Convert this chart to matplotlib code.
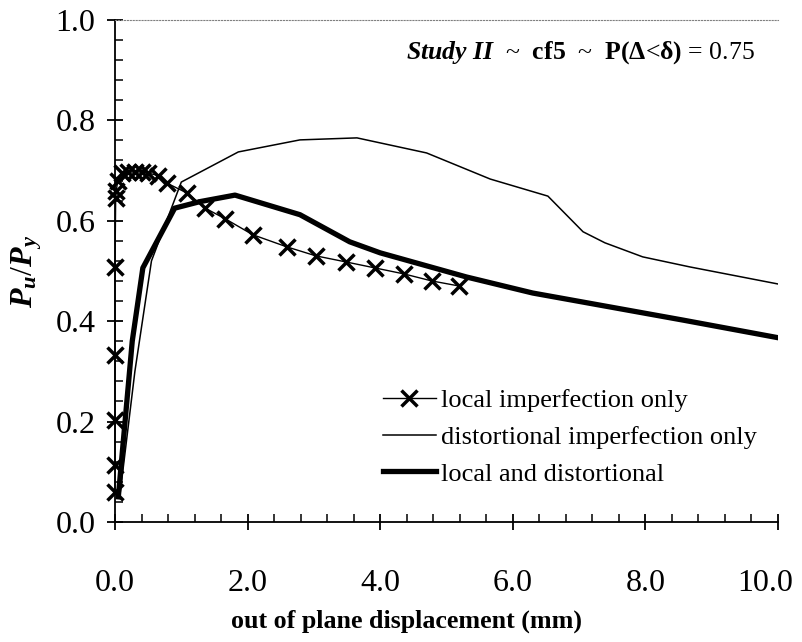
"""Pu/Py vs out of plane displacement, Study II cf5."""

import matplotlib

matplotlib.use("Agg")
import matplotlib.pyplot as plt  # noqa: E402
from matplotlib.ticker import FuncFormatter, FormatStrFormatter, MultipleLocator  # noqa: E402

plt.rcParams["font.family"] = ["Liberation Serif", "DejaVu Serif"]
plt.rcParams["mathtext.fontset"] = "custom"
plt.rcParams["mathtext.rm"] = "Liberation Serif"
plt.rcParams["mathtext.it"] = "Liberation Serif:italic:bold"
plt.rcParams["mathtext.bf"] = "Liberation Serif:bold"

# local imperfection only
local_x = [0.0, 0.0, 0.0, 0.0, 0.0, 0.01, 0.02, 0.04, 0.1, 0.2, 0.3, 0.4, 0.5,
           0.65, 0.78, 1.09, 1.36, 1.66, 2.08, 2.59, 3.03, 3.48, 3.92, 4.36, 4.78, 5.19]
local_y = [0.06, 0.114, 0.203, 0.333, 0.508, 0.645, 0.66, 0.68, 0.695, 0.697, 0.697,
           0.697, 0.695, 0.69, 0.675, 0.655, 0.625, 0.604, 0.572, 0.548, 0.53, 0.518,
           0.506, 0.494, 0.48, 0.47]

# distortional imperfection only
dist_x = [0.08, 0.3, 0.55, 1.0, 1.86, 2.79, 3.65, 4.7, 5.66, 6.53, 7.06, 7.39, 7.96, 8.67, 10.0]
dist_y = [0.06, 0.3, 0.52, 0.677, 0.737, 0.761, 0.765, 0.735, 0.683, 0.649, 0.578, 0.556,
          0.528, 0.508, 0.474]

# local and distortional
both_x = [0.05, 0.26, 0.42, 0.9, 1.28, 1.81, 2.79, 3.54, 4.0, 5.3, 6.3, 8.57, 10.0]
both_y = [0.05, 0.36, 0.506, 0.625, 0.638, 0.651, 0.612, 0.558, 0.536, 0.488, 0.456,
          0.402, 0.367]

X_MAX = 10.0

fig = plt.figure(figsize=(8.02, 6.42), dpi=100)
ax = fig.add_axes([0.1434, 0.187, 0.8266, 0.782])

ax.plot(local_x, local_y, color="black", lw=1.0, marker="x", ms=11, mew=2.5,
        clip_on=False, zorder=4, label="local imperfection only")
ax.plot(dist_x, dist_y, color="black", lw=1.1, label="distortional imperfection only")
ax.plot(both_x, both_y, color="black", lw=3.8, label="local and distortional")

ax.set_xlim(0, X_MAX)
ax.set_ylim(0, 1.0)
ax.xaxis.set_major_locator(MultipleLocator(2.0))
ax.xaxis.set_minor_locator(MultipleLocator(0.4))
ax.yaxis.set_major_locator(MultipleLocator(0.2))
ax.yaxis.set_minor_locator(MultipleLocator(0.04))
# last x label is drawn separately, nudged left so it stays inside the figure
ax.xaxis.set_major_formatter(FuncFormatter(lambda v, _: "" if v >= X_MAX else f"{v:.1f}"))
ax.yaxis.set_major_formatter(FormatStrFormatter("%.1f"))
ax.tick_params(which="major", direction="inout", length=12, width=1.3, labelsize=23, pad=8)
ax.tick_params(axis="x", which="major", pad=28)
ax.tick_params(which="minor", direction="in", length=6, width=1.1)
ax.annotate(f"{X_MAX:.1f}", xy=(X_MAX, 0), xycoords="data", xytext=(-9, -34),
            textcoords="offset points", ha="center", va="top", fontsize=23)

ax.spines["right"].set_visible(False)
ax.spines["top"].set_linestyle(":")
ax.spines["top"].set_color("grey")
ax.spines["left"].set_linewidth(1.3)
ax.spines["bottom"].set_linewidth(1.3)

ax.set_xlabel("out of plane displacement (mm)", fontsize=18.7, fontweight="bold")
ax.xaxis.set_label_coords(0.44, -0.175)
ax.set_ylabel(r"$\mathit{P_u/P_y}$", fontsize=23, labelpad=8)

ax.text(0.965, 0.935,
        r"$\mathit{Study\ II}$  ~  $\mathbf{cf5}$  ~  $\mathbf{P(\Delta}$<$\mathbf{\delta)}$ = 0.75",
        transform=ax.transAxes, ha="right", va="center", fontsize=18.5)

ax.legend(loc="upper left", bbox_to_anchor=(0.388, 0.286), frameon=False, fontsize=19,
          handlelength=2.0, handletextpad=0.2, labelspacing=0.5, borderaxespad=0)

fig.savefig("out.png", dpi=100)
plt.close(fig)
